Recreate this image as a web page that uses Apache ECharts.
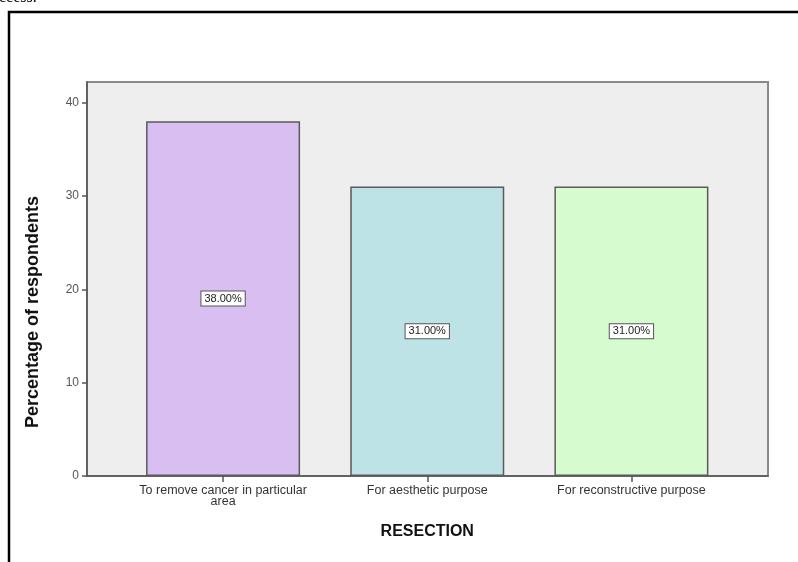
<!DOCTYPE html>
<html>
<head>
<meta charset="utf-8">
<script src="https://cdn.jsdelivr.net/npm/echarts@6/dist/echarts.min.js"></script>
<style>
  html, body { margin: 0; padding: 0; background: #ffffff; }
  #chart { width: 798px; height: 562px; }
</style>
</head>
<body>
<div id="chart"></div>
<script>
// Bar chart data: share of respondents by resection purpose
const categories = [
  'To remove cancer in particular\narea',
  'For aesthetic purpose',
  'For reconstructive purpose'
];
const percentages = [38, 31, 31];
const barColors = ['#d9bff1', '#bde3e6', '#d6fbcf'];
const yTicks = [0, 10, 20, 30, 40];
const yMax = 42.2;

const chart = echarts.init(document.getElementById('chart'));

const option = {
  animation: false,
  backgroundColor: '#ffffff',
  grid: [
    // frame with grey plot background
    { left: 87, right: 30, top: 82, bottom: 86, show: true,
      backgroundColor: '#eeeeee', borderColor: '#8a8a8a', borderWidth: 2 },
    // inner grid holding the bars
    { left: 121, right: 64.5, top: 82, bottom: 86 }
  ],
  xAxis: [
    { type: 'value', gridIndex: 0, min: 0, max: 1,
      axisLine: { show: true, lineStyle: { color: '#555555', width: 1.5 } },
      axisTick: { show: false }, axisLabel: { show: false }, splitLine: { show: false } },
    { type: 'category', gridIndex: 1, data: categories,
      axisLine: { show: false },
      axisTick: { show: true, alignWithLabel: true, length: 6, interval: 0,
        lineStyle: { color: '#555555', width: 1.5 } },
      axisLabel: { color: '#333333', fontSize: 12.5, fontFamily: 'Liberation Sans, Arial, sans-serif',
        margin: 9, lineHeight: 11, interval: 0 },
      name: 'RESECTION', nameLocation: 'middle', nameGap: 48,
      nameTextStyle: { color: '#111111', fontSize: 16, fontWeight: 'bold',
        fontFamily: 'Liberation Sans, Arial, sans-serif' } }
  ],
  yAxis: [
    { type: 'value', gridIndex: 0, min: 0, max: yMax,
      axisLine: { show: true, lineStyle: { color: '#555555', width: 1.5 } },
      axisTick: { show: true, length: 5, customValues: yTicks,
        lineStyle: { color: '#555555', width: 1.5 } },
      axisLabel: { color: '#555555', fontSize: 12, margin: 8, customValues: yTicks,
        fontFamily: 'Liberation Sans, Arial, sans-serif' },
      splitLine: { show: false } },
    { type: 'value', gridIndex: 1, min: 0, max: yMax, show: false }
  ],
  series: [{
    type: 'bar',
    xAxisIndex: 1,
    yAxisIndex: 1,
    barWidth: 154,
    data: percentages.map((v, i) => ({
      value: v,
      itemStyle: { color: barColors[i] }
    })),
    itemStyle: { borderColor: '#5a5a5a', borderWidth: 1.5 },
    label: {
      show: true,
      position: 'inside',
      formatter: p => p.value.toFixed(2) + '%',
      color: '#222222',
      fontSize: 11,
      fontFamily: 'Liberation Sans, Arial, sans-serif',
      backgroundColor: '#ffffff',
      borderColor: '#555555',
      borderWidth: 1,
      padding: [2, 3, 1, 3]
    }
  }],
  graphic: [
    // page border around the figure
    { type: 'rect', shape: { x: 9, y: 12, width: 820, height: 600 },
      style: { fill: 'none', stroke: '#000000', lineWidth: 2.5 }, z: 10 },
    // tail of the preceding sentence above the figure
    { type: 'text', x: -1, y: 6,
      style: { text: 'ccess.', fontSize: 16, fontFamily: 'Liberation Serif, serif',
        fill: '#000000', verticalAlign: 'bottom' } },
    // y axis title
    { type: 'text', x: 33, y: 312, rotation: Math.PI / 2,
      style: { text: 'Percentage of respondents', fontSize: 18, fontWeight: 'bold',
        fontFamily: 'Liberation Sans, Arial, sans-serif', fill: '#111111',
        align: 'center', verticalAlign: 'middle' } }
  ]
};

chart.setOption(option);
</script>
</body>
</html>
